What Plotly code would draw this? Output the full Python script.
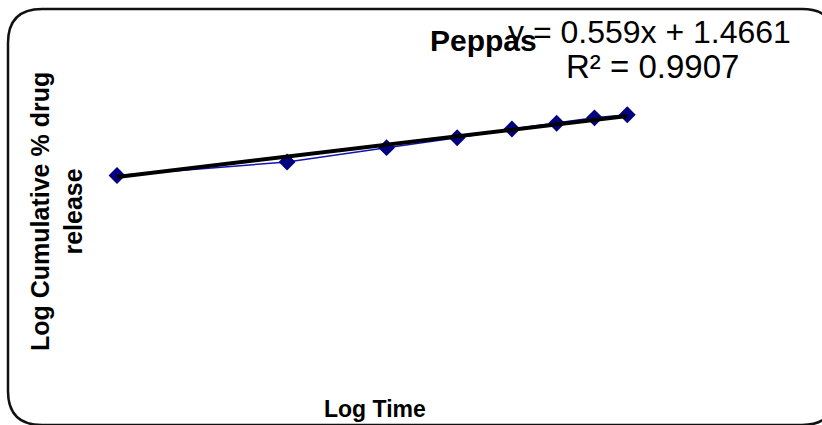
import numpy as np
import plotly.graph_objects as go

# ---- data ----
time_h = [1, 2, 3, 4, 5, 6, 7, 8]
log_time = [float(np.log10(t)) for t in time_h]
log_release = [1.478, 1.590, 1.708, 1.790, 1.862, 1.910, 1.955, 1.980]
slope = 0.559
intercept = 1.4661
r_squared = 0.9907
title_text = "Peppas"
x_title = "Log Time"
y_title = "Log Cumulative % drug<br>release"

W, H = 822, 425
L, R, T, B = 117, 140, 52, 71
pw, ph = W - L - R, H - T - B
XR = [0, 1]
YR = [0, 2.5]

def px(x):  # pixel -> paper x
    return (x - L) / pw

def py(y):  # pixel -> paper y
    return (H - B - y) / ph

trend_x = [min(log_time), max(log_time)]
trend_y = [slope * v + intercept for v in trend_x]

fig = go.Figure()
fig.add_trace(go.Scatter(
    x=log_time, y=log_release, mode="lines+markers",
    line=dict(color="#1414B4", width=1.5),
    marker=dict(symbol="diamond", size=13, color="#000080"),
    cliponaxis=False, showlegend=False, hoverinfo="skip"))
fig.add_trace(go.Scatter(
    x=trend_x, y=trend_y, mode="lines",
    line=dict(color="black", width=4),
    cliponaxis=False, showlegend=False, hoverinfo="skip"))

FONT = "Liberation Sans, Arial, sans-serif"

# rounded border
x0, x1, y0, y1 = 8, 836, 9, 425
r = 34
path = (f"M {px(x0)},{py(y0 + r)} "
        f"Q {px(x0)},{py(y0)} {px(x0 + r)},{py(y0)} "
        f"L {px(x1 - r)},{py(y0)} "
        f"Q {px(x1)},{py(y0)} {px(x1)},{py(y0 + r)} "
        f"L {px(x1)},{py(y1 - r)} "
        f"Q {px(x1)},{py(y1)} {px(x1 - r)},{py(y1)} "
        f"L {px(x0 + r)},{py(y1)} "
        f"Q {px(x0)},{py(y1)} {px(x0)},{py(y1 - r)} Z")
fig.add_shape(type="path", path=path, xref="paper", yref="paper",
              line=dict(color="#111111", width=2.5), layer="below")

annotations = [
    dict(text="<b>" + x_title + "</b>", x=px(375), y=py(409),
         font=dict(size=23, color="black", family=FONT)),
    dict(text="<b>" + y_title + "</b>", x=px(56), y=py(212), textangle=-90,
         font=dict(size=25, color="black", family=FONT)),
    dict(text="<b>" + title_text + "</b>", x=px(483), y=py(40),
         font=dict(size=30, color="black", family=FONT)),
    dict(text=f"y = {slope}x + {intercept}", x=px(649), y=py(32),
         font=dict(size=32, color="black", family=FONT)),
    dict(text=f"R² = {r_squared}", x=px(652), y=py(66),
         font=dict(size=33, color="black", family=FONT)),
]
for a in annotations:
    a.update(xref="paper", yref="paper", showarrow=False,
             xanchor="center", yanchor="middle")

fig.update_layout(
    width=W, height=H,
    margin=dict(l=L, r=R, t=T, b=B),
    paper_bgcolor="white", plot_bgcolor="white",
    annotations=annotations,
    xaxis=dict(range=XR, visible=False, fixedrange=True),
    yaxis=dict(range=YR, visible=False, fixedrange=True),
)

fig.write_html("out.html")
